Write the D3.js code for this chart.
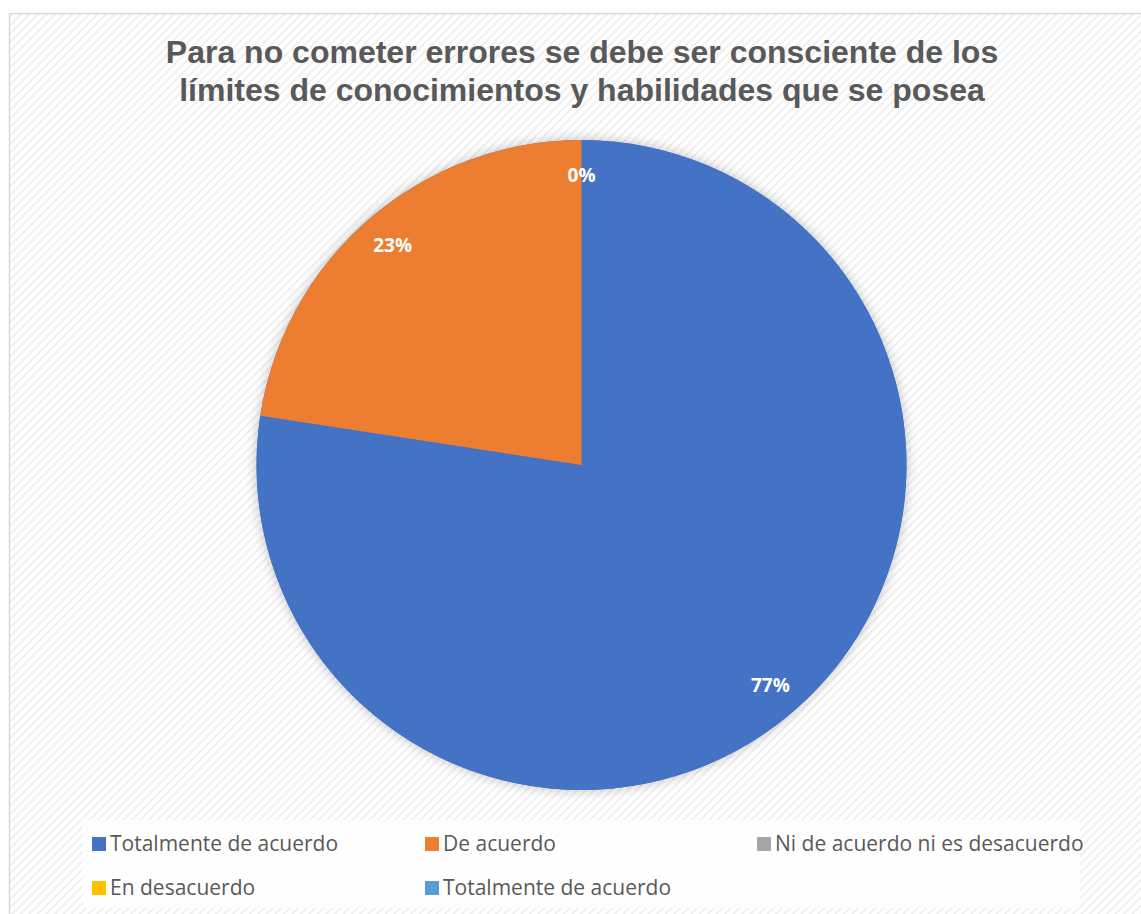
<!DOCTYPE html>
<html><head><meta charset="utf-8">
<script src="https://cdn.jsdelivr.net/npm/d3@7"></script>
<style>body{margin:0;background:#fff;}svg{display:block;}</style>
</head><body>
<svg id="c" width="1141" height="914"></svg>
<script>
const categories = ["Totalmente de acuerdo","De acuerdo","Ni de acuerdo ni es desacuerdo","En desacuerdo","Totalmente de acuerdo"];
const values = [24, 7, 0, 0, 0];
const colors = ["#4472C4","#ED7D31","#A5A5A5","#FFC000","#5B9BD5"];
const titleLines = ["Para no cometer errores se debe ser consciente de los","límites de conocimientos y habilidades que se posea"];

const svg = d3.select("#c");
const defs = svg.append("defs");
const pat = defs.append("pattern").attr("id","hatch").attr("patternUnits","userSpaceOnUse")
  .attr("width",6).attr("height",6).attr("patternTransform","rotate(45)");
pat.append("rect").attr("width",6).attr("height",6).attr("fill","#ffffff");
pat.append("rect").attr("width",2).attr("height",6).attr("fill","#f0f0f0");
const f = defs.append("filter").attr("id","sh").attr("x","-20%").attr("y","-20%").attr("width","140%").attr("height","140%");
f.append("feDropShadow").attr("dx",0).attr("dy",0).attr("stdDeviation",6).attr("flood-color","#000").attr("flood-opacity",0.25);

svg.append("rect").attr("x",9.5).attr("y",13.5).attr("width",1140).attr("height",910)
  .attr("fill","url(#hatch)").attr("stroke","#d9d9d9").attr("stroke-width",1.5);

svg.append("text").attr("x",582).attr("text-anchor","middle")
  .attr("font-family","Liberation Sans, Arial, sans-serif").attr("font-weight","bold")
  .attr("font-size",32).attr("fill","#595959")
  .selectAll("tspan").data(titleLines).join("tspan")
  .attr("x",582).attr("y",(d,i)=>63+i*38).text(d=>d);

const cx=581.5, cy=465, R=325;
const pie = d3.pie().sort(null).value(d=>d)(values);
const arc = d3.arc().innerRadius(0).outerRadius(R);
const g = svg.append("g").attr("transform",`translate(${cx},${cy})`);
g.append("circle").attr("r",R).attr("fill","#4472C4").attr("filter","url(#sh)");
g.selectAll("path").data(pie).join("path").attr("d",arc).attr("fill",(d,i)=>colors[i]);

const lab = d3.arc().innerRadius(290).outerRadius(290);
const shown = pie.filter((d,i)=> d.value>0 || i===2);
g.selectAll("text.l").data(shown).join("text").attr("class","l")
  .attr("transform",d=>{const c=lab.centroid(d);return `translate(${c[0]},${c[1]})`;})
  .attr("text-anchor","middle").attr("dy","0.35em")
  .attr("font-family","Open Sans, Noto Sans, sans-serif").attr("font-weight","bold")
  .attr("font-size",19).attr("fill","#fff")
  .text(d=>Math.round(d.value/d3.sum(values)*100)+"%");

// legend
svg.append("rect").attr("x",83).attr("y",820).attr("width",997).attr("height",88).attr("fill","#fff").attr("opacity",0.85);
const cols=[92,425,757], rows=[844,888];
const lg = svg.append("g").selectAll("g").data(categories).join("g")
  .attr("transform",(d,i)=>`translate(${cols[i%3]},${rows[Math.floor(i/3)]})`);
lg.append("rect").attr("x",0).attr("y",-7).attr("width",14).attr("height",14).attr("fill",(d,i)=>colors[i]);
lg.append("text").attr("x",18).attr("dy","0.35em")
  .attr("font-family","Open Sans, Noto Sans, sans-serif").attr("font-size",21).attr("fill","#595959").text(d=>d);
</script>
</body></html>
